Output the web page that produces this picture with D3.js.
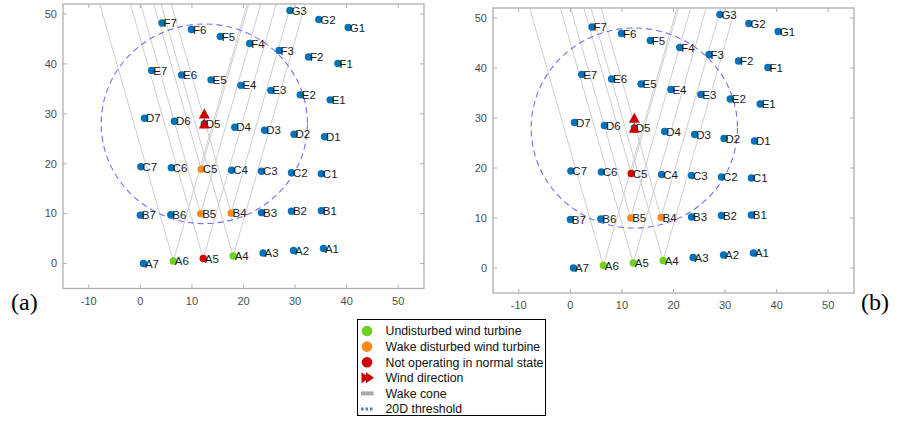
<!DOCTYPE html>
<html lang="en">
<head>
<meta charset="utf-8">
<title>Wind farm wake cones</title>
<script src="https://cdn.jsdelivr.net/npm/d3@7"></script>
<style>
  body { margin: 0; background: #fff; }
  svg { display: block; font-family: "Liberation Sans", Arial, sans-serif; }
</style>
</head>
<body>
<div id="chart"></div>
<script>
// turbine layout (same for both panels)
var turbineNames = ["A1","A2","A3","A4","A5","A6","A7",
                    "B1","B2","B3","B4","B5","B6","B7",
                    "C1","C2","C3","C4","C5","C6","C7",
                    "D1","D2","D3","D4","D5","D6","D7",
                    "E1","E2","E3","E4","E5","E6","E7",
                    "F1","F2","F3","F4","F5","F6","F7",
                    "G1","G2","G3"];
var turbineX = [35.5, 29.7, 23.8, 18.0, 12.2, 6.4, 0.6,
                35.1, 29.3, 23.5, 17.6, 11.7, 5.9, 0.0,
                35.1, 29.3, 23.5, 17.7, 11.8, 6.0, 0.1,
                35.7, 29.8, 24.1, 18.3, 12.4, 6.6, 0.8,
                36.8, 31.0, 25.3, 19.5, 13.7, 8.0, 2.2,
                38.3, 32.6, 26.9, 21.2, 15.5, 9.9, 4.2,
                40.3, 34.6, 29.0];
var turbineY = [3.0, 2.6, 2.1, 1.5, 1.0, 0.5, 0.0,
                10.6, 10.5, 10.2, 10.1, 10.0, 9.8, 9.7,
                18.0, 18.2, 18.5, 18.7, 18.9, 19.2, 19.4,
                25.4, 25.9, 26.7, 27.3, 28.0, 28.5, 29.1,
                32.8, 33.8, 34.7, 35.7, 36.8, 37.8, 38.7,
                40.1, 41.4, 42.7, 44.1, 45.5, 46.9, 48.2,
                47.3, 48.9, 50.7];

// turbine states per panel
var undisturbedA = ["A6", "A4"];
var wakeA = ["B5", "B4", "C5"];
var faultA = ["A5"];
var undisturbedB = ["A6", "A5", "A4"];
var wakeB = ["B5", "B4"];
var faultB = ["C5"];

// wake cones and threshold
var coneSources = ["A6", "A5", "A4", "B5", "B4", "C5"];
var coneHalfAngle = 15.5; // degrees
var thresholdCenter = "D5";
var thresholdRadius = 20;
var windMarkerY = [28, 30]; // stacked arrow heads at D5

var xTicks = [-10, 0, 10, 20, 30, 40, 50];
var yTicks = [0, 10, 20, 30, 40, 50];

var legendLabels = ["Undisturbed wind turbine", "Wake disturbed wind turbine",
                    "Not operating in normal state", "Wind direction", "Wake cone", "20D threshold"];

var colors = { normal: "#0072bd", undisturbed: "#6fd11c", wake: "#ff8a1c", fault: "#cc0000" };

var turbines = turbineNames.map(function(n, i) { return { name: n, x: turbineX[i], y: turbineY[i] }; });
function byName(n) { return turbines.find(function(t) { return t.name === n; }); }

var svg = d3.select("#chart").append("svg")
  .attr("width", 898).attr("height", 427);

function drawPanel(id, box, states, tag) {
  var x = d3.scaleLinear().domain([-15, 55]).range([box.left, box.right]);
  var y = d3.scaleLinear().domain([-5, 52]).range([box.bottom, box.top]);
  var g = svg.append("g");

  g.append("clipPath").attr("id", "clip" + id)
    .append("rect").attr("x", box.left).attr("y", box.top)
    .attr("width", box.right - box.left).attr("height", box.bottom - box.top);

  var plot = g.append("g").attr("clip-path", "url(#clip" + id + ")");

  // wake cones
  var t = Math.tan(coneHalfAngle * Math.PI / 180);
  var cones = [];
  coneSources.forEach(function(n) {
    var s = byName(n);
    var dy = 52 - s.y;
    cones.push([s, { x: s.x - t * dy, y: 52 }]);
    cones.push([s, { x: s.x + t * dy, y: 52 }]);
  });
  plot.selectAll(".cone").data(cones).enter().append("line")
    .attr("x1", function(d) { return x(d[0].x); })
    .attr("y1", function(d) { return y(d[0].y); })
    .attr("x2", function(d) { return x(d[1].x); })
    .attr("y2", function(d) { return y(d[1].y); })
    .attr("stroke", "#cfcfcf").attr("stroke-width", 1);

  // 20D threshold
  var c = byName(thresholdCenter);
  plot.append("ellipse")
    .attr("cx", x(c.x)).attr("cy", y(c.y))
    .attr("rx", x(c.x + thresholdRadius) - x(c.x))
    .attr("ry", y(c.y) - y(c.y + thresholdRadius))
    .attr("fill", "none").attr("stroke", "#6f6fff")
    .attr("stroke-width", 1.1).attr("stroke-dasharray", "6,4");

  // turbines
  function colorOf(n) {
    if (states.undisturbed.indexOf(n) >= 0) return colors.undisturbed;
    if (states.wake.indexOf(n) >= 0) return colors.wake;
    if (states.fault.indexOf(n) >= 0) return colors.fault;
    return colors.normal;
  }
  plot.selectAll(".dot").data(turbines).enter().append("circle")
    .attr("cx", function(d) { return x(d.x); })
    .attr("cy", function(d) { return y(d.y); })
    .attr("r", 3.7)
    .attr("fill", function(d) { return colorOf(d.name); });

  plot.selectAll(".lbl").data(turbines).enter().append("text")
    .attr("x", function(d) { return x(d.x) + 1.5; })
    .attr("y", function(d) { return y(d.y); })
    .attr("dy", "0.36em")
    .attr("font-size", 11.5).attr("fill", "#1a1a1a")
    .text(function(d) { return d.name; });

  // wind direction markers
  plot.selectAll(".wind").data(windMarkerY).enter().append("path")
    .attr("d", function(d) {
      var cx = x(c.x), cy = y(d);
      return "M" + (cx - 5.5) + "," + (cy + 4.8) + "L" + (cx + 5.5) + "," + (cy + 4.8) + "L" + cx + "," + (cy - 5.3) + "Z";
    })
    .attr("fill", colors.fault);

  // frame and ticks
  g.append("rect").attr("x", box.left).attr("y", box.top)
    .attr("width", box.right - box.left).attr("height", box.bottom - box.top)
    .attr("fill", "none").attr("stroke", "#b0b0b0").attr("stroke-width", 1.3);

  var tk = 4;
  xTicks.forEach(function(v) {
    g.append("line").attr("x1", x(v)).attr("x2", x(v)).attr("y1", box.bottom).attr("y2", box.bottom - tk).attr("stroke", "#b0b0b0");
    g.append("line").attr("x1", x(v)).attr("x2", x(v)).attr("y1", box.top).attr("y2", box.top + tk).attr("stroke", "#b0b0b0");
  });
  yTicks.forEach(function(v) {
    g.append("line").attr("y1", y(v)).attr("y2", y(v)).attr("x1", box.left).attr("x2", box.left + tk).attr("stroke", "#b0b0b0");
    g.append("line").attr("y1", y(v)).attr("y2", y(v)).attr("x1", box.right).attr("x2", box.right - tk).attr("stroke", "#b0b0b0");
  });

  g.selectAll(".xt").data(xTicks).enter().append("text")
    .attr("x", function(d) { return x(d); })
    .attr("y", box.bottom + 16)
    .attr("text-anchor", "middle").attr("font-size", 11).attr("fill", "#4d4d4d")
    .text(function(d) { return d; });
  g.selectAll(".yt").data(yTicks).enter().append("text")
    .attr("x", box.left - 6)
    .attr("y", function(d) { return y(d); })
    .attr("dy", "0.35em")
    .attr("text-anchor", "end").attr("font-size", 11).attr("fill", "#4d4d4d")
    .text(function(d) { return d; });

  svg.append("text")
    .attr("x", tag.x).attr("y", tag.y)
    .attr("font-family", "'Liberation Serif', 'Times New Roman', serif")
    .attr("font-size", 24).attr("fill", "#000")
    .text(tag.text);
}

drawPanel("a", { left: 63, right: 424, top: 4, bottom: 288.5 },
  { undisturbed: undisturbedA, wake: wakeA, fault: faultA },
  { x: 11, y: 310, text: "(a)" });
drawPanel("b", { left: 493, right: 854, top: 8, bottom: 293 },
  { undisturbed: undisturbedB, wake: wakeB, fault: faultB },
  { x: 861, y: 310, text: "(b)" });

// legend
var lg = svg.append("g");
lg.append("rect").attr("x", 357.5).attr("y", 319.5).attr("width", 188).attr("height", 96)
  .attr("fill", "#fff").attr("stroke", "#000").attr("stroke-width", 1);
var rowY = d3.scalePoint().domain(legendLabels).range([331, 409]);
var sx = 367;
lg.append("circle").attr("cx", sx).attr("cy", rowY(legendLabels[0])).attr("r", 5.3).attr("fill", colors.undisturbed);
lg.append("circle").attr("cx", sx).attr("cy", rowY(legendLabels[1])).attr("r", 5.3).attr("fill", colors.wake);
lg.append("circle").attr("cx", sx).attr("cy", rowY(legendLabels[2])).attr("r", 5.3).attr("fill", colors.fault);
var wy = rowY(legendLabels[3]);
[361.5, 366].forEach(function(ax) {
  lg.append("path")
    .attr("d", "M" + ax + "," + (wy - 5.5) + "L" + (ax + 8) + "," + wy + "L" + ax + "," + (wy + 5.5) + "Z")
    .attr("fill", colors.fault);
});
lg.append("line").attr("x1", 361).attr("x2", 373.5)
  .attr("y1", rowY(legendLabels[4])).attr("y2", rowY(legendLabels[4]))
  .attr("stroke", "#a9a9a9").attr("stroke-width", 4);
lg.append("line").attr("x1", 361).attr("x2", 374)
  .attr("y1", rowY(legendLabels[5])).attr("y2", rowY(legendLabels[5]))
  .attr("stroke", "#4f7ec4").attr("stroke-width", 3).attr("stroke-dasharray", "2.5,2");
lg.selectAll(".lt").data(legendLabels).enter().append("text")
  .attr("x", 385.5).attr("y", function(d) { return rowY(d); })
  .attr("dy", "0.35em").attr("font-size", 12.3).attr("fill", "#111")
  .text(function(d) { return d; });
</script>
</body>
</html>
